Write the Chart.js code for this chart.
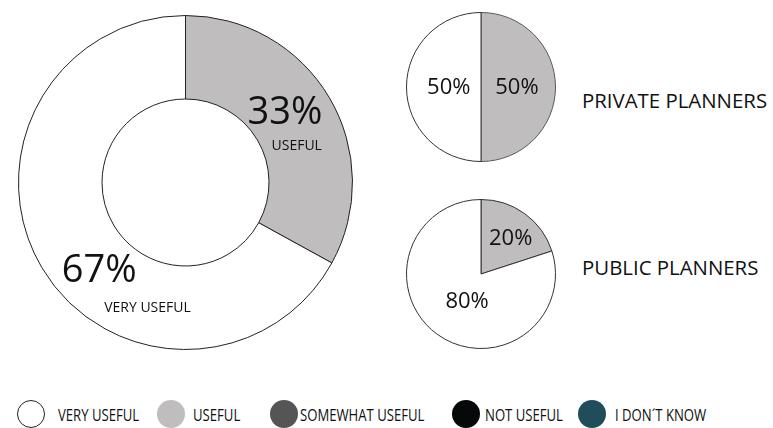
<!DOCTYPE html>
<html>
<head>
<meta charset="utf-8">
<script src="https://cdn.jsdelivr.net/npm/chart.js@4"></script>
<style>
  html, body { margin: 0; padding: 0; background: #fff; }
  body { width: 773px; height: 428px; position: relative; overflow: hidden; font-family: "Open Sans", sans-serif; color: #111; }
  canvas { position: absolute; }
  .group-title { position: absolute; font-size: 20.4px; line-height: 20px; white-space: nowrap; }
  .legend-dot { position: absolute; width: 28px; height: 28px; border-radius: 50%; box-sizing: border-box; }
  .legend-text { position: absolute; font-size: 16px; line-height: 16px; white-space: nowrap; transform: scaleX(0.82); transform-origin: left center; }
</style>
</head>
<body>
<canvas id="overallChart" width="335" height="335" style="left:18px;top:15px"></canvas>
<canvas id="privateChart" width="150" height="150" style="left:406px;top:12px"></canvas>
<canvas id="publicChart" width="150" height="150" style="left:406px;top:199px"></canvas>
<div class="group-title" style="left:582px;top:90px">PRIVATE PLANNERS</div>
<div class="group-title" style="left:582px;top:257px">PUBLIC PLANNERS</div>
<div id="legend"></div>

<script>
// answer categories and their colours (legend order)
var categories = ["VERY USEFUL", "USEFUL", "SOMEWHAT USEFUL", "NOT USEFUL", "I DON´T KNOW"];
var categoryColors = ["#ffffff", "#bfbdbe", "#555555", "#060909", "#214d5a"];

// slices start at 12 o'clock and go clockwise: useful first, then very useful
var sliceLabels = ["USEFUL", "VERY USEFUL"];
var overallValues = [33, 67];
var privateValues = [50, 50];
var publicValues = [20, 80];

var sliceColors = [categoryColors[1], categoryColors[0]];

// writes "NN%" (and optionally the answer name) inside each slice
var sliceText = {
  id: "sliceText",
  afterDatasetsDraw: function (chart, args, opts) {
    var ctx = chart.ctx;
    var meta = chart.getDatasetMeta(0);
    var values = chart.data.datasets[0].data;
    meta.data.forEach(function (arc, i) {
      var p = arc.tooltipPosition();
      var spec = opts.items[i];
      ctx.save();
      ctx.fillStyle = "#111";
      ctx.textAlign = "center";
      ctx.textBaseline = "alphabetic";
      ctx.font = opts.valueSize + 'px "Open Sans"';
      ctx.fillText(values[i] + "%", p.x + spec.dx, p.y + spec.dy + opts.valueSize * 0.357);
      if (spec.name) {
        ctx.font = opts.nameSize + 'px "Open Sans"';
        ctx.fillText(chart.data.labels[i], p.x + spec.nameDx, p.y + spec.nameDy + opts.nameSize * 0.357);
      }
      ctx.restore();
    });
  },
};

function makePie(id, values, cutout, borders, textOpts) {
  return new Chart(document.getElementById(id), {
    type: "doughnut",
    data: {
      labels: sliceLabels,
      datasets: [
        {
          data: values,
          backgroundColor: sliceColors,
          borderColor: borders,
          borderWidth: 1,
        },
      ],
    },
    options: {
      responsive: false,
      animation: false,
      cutout: cutout,
      layout: { padding: 0 },
      plugins: {
        legend: { display: false },
        tooltip: { enabled: false },
        sliceText: textOpts,
      },
    },
    plugins: [sliceText],
  });
}

makePie("overallChart", overallValues, "50%", ["#222", "#222"], {
  valueSize: 38,
  nameSize: 14,
  items: [
    { dx: -8.3, dy: -8.7, name: true, nameDx: 3.4, nameDy: 26.6 },
    { dx: 21.5, dy: 21.7, name: true, nameDx: 69.8, nameDy: 60.7 },
  ],
});

makePie("privateChart", privateValues, 0, ["#5a5a5a", "#333"], {
  valueSize: 22,
  items: [
    { dx: -1.3, dy: -1.3 },
    { dx: 5, dy: -1.3 },
  ],
});

makePie("publicChart", publicValues, 0, ["#333", "#333"], {
  valueSize: 22,
  items: [
    { dx: 7.8, dy: -6.7 },
    { dx: 8, dy: -3.5 },
  ],
});

// legend row along the bottom
var dotLeft = [17, 157, 270, 452, 578];
var textLeft = [58, 193, 300, 485, 615];
var legend = document.getElementById("legend");
categories.forEach(function (name, i) {
  var dot = document.createElement("div");
  dot.className = "legend-dot";
  dot.style.left = dotLeft[i] + "px";
  dot.style.top = "400px";
  dot.style.background = categoryColors[i];
  if (i == 0) dot.style.border = "1px solid #222";
  legend.appendChild(dot);

  var txt = document.createElement("div");
  txt.className = "legend-text";
  txt.style.left = textLeft[i] + "px";
  txt.style.top = "407px";
  txt.textContent = name;
  legend.appendChild(txt);
});
</script>
</body>
</html>
